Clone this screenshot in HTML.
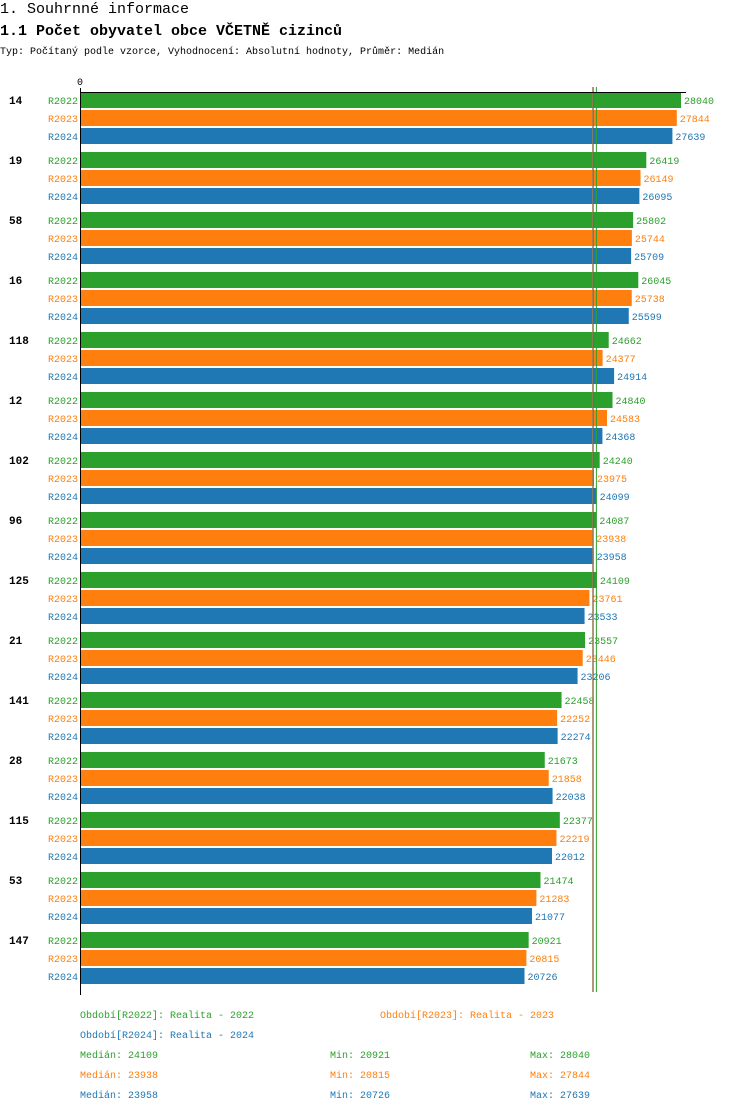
<!DOCTYPE html>
<html><head><meta charset="utf-8"><style>
body{margin:0;background:#fff;width:750px;height:1112px;overflow:hidden;font-family:"Liberation Mono",monospace}
svg text{font-family:"Liberation Mono",monospace}
</style></head><body>
<svg id="c" width="750" height="1112">
<text x="0" y="13" font-size="15">1. Souhrnné informace</text>
<text x="0" y="35" font-size="15" font-weight="bold">1.1 Počet obyvatel obce VČETNĚ cizinců</text>
<text x="0" y="54" font-size="10">Typ: Počítaný podle vzorce, Vyhodnocení: Absolutní hodnoty, Průměr: Medián</text>
</svg>
<script>
const categories=["14","19","58","16","118","12","102","96","125","21","141","28","115","53","147"];
const series=["R2022","R2023","R2024"];
const v2022=[28040,26419,25802,26045,24662,24840,24240,24087,24109,23557,22458,21673,22377,21474,20921];
const v2023=[27844,26149,25744,25738,24377,24583,23975,23938,23761,23446,22252,21858,22219,21283,20815];
const v2024=[27639,26095,25709,25599,24914,24368,24099,23958,23533,23206,22274,22038,22012,21077,20726];
const medians=[24109,23938,23958];
const mins=[20921,20815,20726];
const maxs=[28040,27844,27639];
const legendNames=["Realita - 2022","Realita - 2023","Realita - 2024"];
const colors=["#2ca02c","#ff7f0e","#1f77b4"];
const NS="http://www.w3.org/2000/svg";
const svg=document.getElementById('c');
const x0=81, xMaxPx=600/28040;
const xs=v=>x0+v*xMaxPx;
const ys=(g,s)=>92+g*60+s*18;
function el(t,a,txt){const e=document.createElementNS(NS,t);for(const k in a)e.setAttribute(k,a[k]);if(txt!==undefined)e.textContent=txt;svg.appendChild(e);return e;}
const data=[v2022,v2023,v2024];
categories.forEach((c,g)=>{
 const t=el('text',{x:9,y:ys(g,0)+12,'font-size':11,'font-weight':'bold'},c);
 
 
 series.forEach((s,si)=>{
  const y=ys(g,si);
  const l=el('text',{x:78,y:y+12,'font-size':10,'text-anchor':'end',fill:colors[si]},s);
  
  
  const v=data[si][g];
  const r=el('rect',{x:x0,y:y,width:xs(v)-x0,height:16,fill:colors[si]});
  
  
  const vt=el('text',{x:xs(v)+3,y:y+12,'font-size':10,fill:colors[si]},v);
  
  
 });
});
[1,2,0].forEach(si=>{
 const m=el('line',{x1:xs(medians[si])-0.5,x2:xs(medians[si])-0.5,y1:87,y2:992,stroke:colors[si],'stroke-width':1});
 
 
});
const ax=el('line',{x1:80.5,x2:80.5,y1:88,y2:995,stroke:'#000','stroke-width':1});


const tx=el('line',{x1:80,x2:686,y1:92.5,y2:92.5,stroke:'#000','stroke-width':1});


const z=el('text',{x:80,y:85,'font-size':10,'text-anchor':'middle'},'0');


const lp=[[80,1018],[380,1018],[80,1038]];
series.forEach((s,si)=>{
 const t=el('text',{x:lp[si][0],y:lp[si][1],'font-size':10,fill:colors[si]},'Období['+s+']: '+legendNames[si]);
 
 
 const y=1058+si*20;
 const a=el('text',{x:80,y:y,'font-size':10,fill:colors[si]},'Medián: '+medians[si]);
 
 
 const b=el('text',{x:330,y:y,'font-size':10,fill:colors[si]},'Min: '+mins[si]);
 
 
 const d=el('text',{x:530,y:y,'font-size':10,fill:colors[si]},'Max: '+maxs[si]);
 
 
});
</script>
</body></html>
